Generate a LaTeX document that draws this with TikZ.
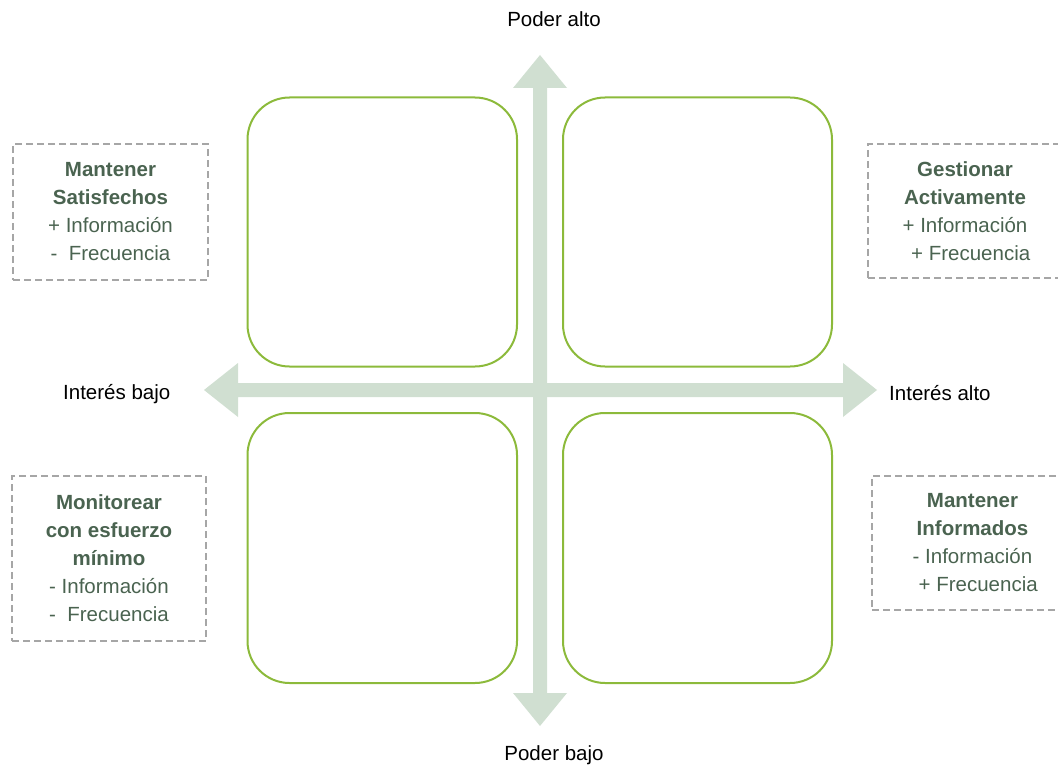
\documentclass[tikz,border=0pt]{standalone}
\usepackage{fontspec}
\setmainfont{Liberation Sans}
\definecolor{boxgreen}{RGB}{140,186,59}
\definecolor{arrowfill}{RGB}{208,223,209}
\definecolor{dashgray}{RGB}{166,166,166}
\definecolor{txtgreen}{RGB}{74,99,80}
\tikzset{
  quad/.style={draw=boxgreen, line width=2pt, rounded corners=42pt},
  axisarrow/.style={fill=arrowfill, draw=none},
  dbox/.style={draw=dashgray, line width=1.4pt, dash pattern=on 7pt off 4pt, align=center, text=txtgreen, inner sep=0pt, font=\fontsize{20.5}{28}\selectfont},
  axislabel/.style={text=black, inner sep=0pt, font=\fontsize{20.5}{24}\selectfont}
}
\begin{document}
\begin{tikzpicture}[x=1pt,y=-1pt]
\useasboundingbox (0,0) rectangle (1058,765);
% axis arrows
\fill[axisarrow] (540,55) -- (567,88) -- (547,88) -- (547,693) -- (567,693) -- (540,726) -- (513,693) -- (533,693) -- (533,88) -- (513,88) -- cycle;
\fill[axisarrow] (204,390) -- (238,363) -- (238,383) -- (843,383) -- (843,363) -- (877,390) -- (843,417) -- (843,397) -- (238,397) -- (238,417) -- cycle;
% quadrants
\draw[quad] (247.5,97.5) rectangle (517,366.5);
\draw[quad] (563,97.5) rectangle (832,366.5);
\draw[quad] (247.5,413) rectangle (517,683);
\draw[quad] (563,413) rectangle (832,683);
% axis labels
\node[axislabel, anchor=base] (pa) at (554,27) {Poder alto};
\node[axislabel, anchor=base] (pb) at (554,760) {Poder bajo};
\node[axislabel, anchor=base west] (ib) at (63,399) {Interés bajo};
\node[axislabel, anchor=base west] (ia) at (889,400) {Interés alto};
% dashed label boxes
\node[dbox, minimum width=195pt, minimum height=136pt] (ms) at (110.5,212) {\textbf{Mantener}\\\textbf{Satisfechos}\\+ Información\\-\ \ Frecuencia};
\node[dbox, minimum width=194pt, minimum height=134pt] (ga) at (965,211) {\textbf{Gestionar}\\\textbf{Activamente}\\+ Información\\\ \ + Frecuencia};
\node[dbox, minimum width=194pt, minimum height=165pt] (mo) at (109,558.5) {\textbf{Monitorear}\\\textbf{con esfuerzo}\\\textbf{mínimo}\\- Información\\-\ \ Frecuencia};
\node[dbox, minimum width=201pt, minimum height=134pt] (mi) at (972.5,543) {\textbf{Mantener}\\\textbf{Informados}\\- Información\\\ \ + Frecuencia};
\end{tikzpicture}
\end{document}
